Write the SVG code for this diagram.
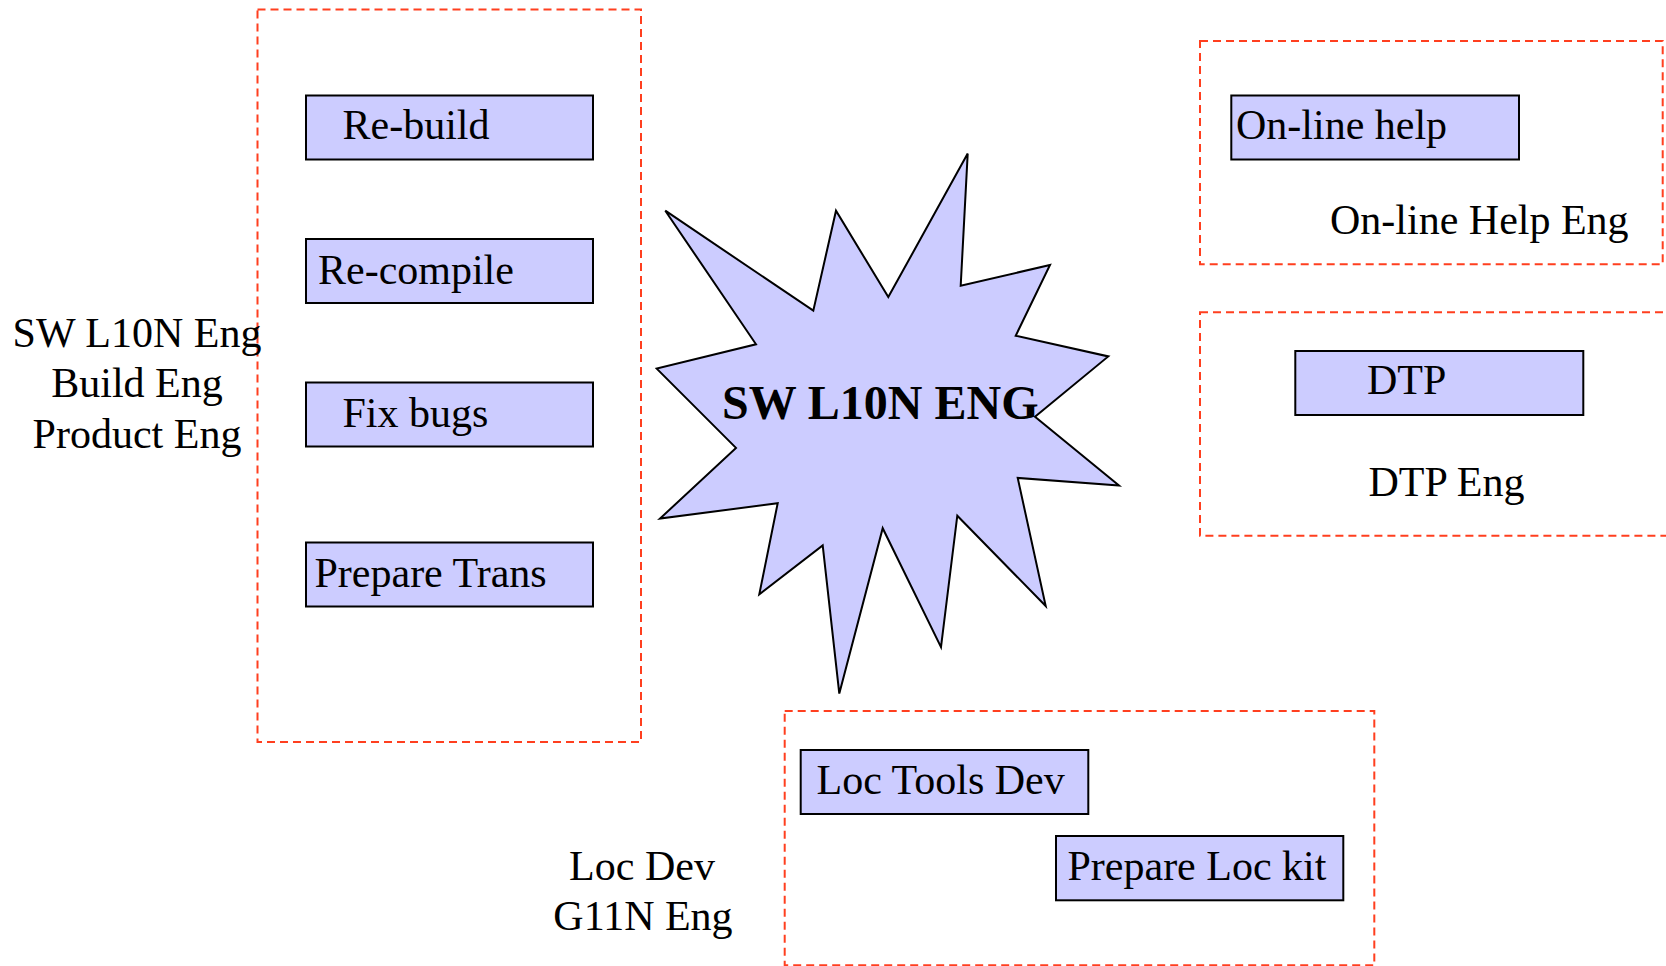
<svg xmlns="http://www.w3.org/2000/svg" width="1666" height="966" viewBox="0 0 1666 966">
<style>
.grp{fill:none;stroke:#FF3F1F;stroke-width:2;stroke-dasharray:8 5}
.box{fill:#CCCCFF;stroke:#000;stroke-width:2}
.t{font-family:"Liberation Serif","Times New Roman",serif;font-size:42px;fill:#000}
.c{text-anchor:middle}
.title{font-family:"Liberation Serif","Times New Roman",serif;font-size:48px;font-weight:bold;fill:#000}
</style>
<rect width="1666" height="966" fill="#fff"/>
<g id="group-build">
<rect class="grp" x="257.5" y="9.5" width="383.5" height="732.5"/>
<text class="t c" x="137" y="346.7">SW L10N Eng</text>
<text class="t c" x="137" y="397.3">Build Eng</text>
<text class="t c" x="137" y="448.3">Product Eng</text>
</g>
<g id="group-online">
<rect class="grp" x="1200" y="41" width="462.7" height="223.3"/>
<text class="t" x="1330" y="234.3">On-line Help Eng</text>
</g>
<g id="group-dtp">
<rect class="grp" x="1200" y="312.3" width="480" height="223.4"/>
<text class="t" x="1368.5" y="496">DTP Eng</text>
</g>
<g id="group-locdev">
<rect class="grp" x="784.7" y="711" width="589.6" height="254.3"/>
<text class="t c" x="642" y="880">Loc Dev</text>
<text class="t c" x="643" y="930">G11N Eng</text>
</g>
<g id="rebuild"><rect class="box" x="306" y="95.5" width="287" height="64"/><text class="t" x="342.5" y="139.3">Re-build</text></g>
<g id="recompile"><rect class="box" x="306" y="239" width="287" height="64"/><text class="t" x="318" y="283.7">Re-compile</text></g>
<g id="fixbugs"><rect class="box" x="306" y="382.5" width="287" height="64"/><text class="t" x="342.5" y="426.7">Fix bugs</text></g>
<g id="preparetrans"><rect class="box" x="306" y="542.5" width="287" height="64"/><text class="t" x="314.5" y="586.7">Prepare Trans</text></g>
<g id="onlinehelp"><rect class="box" x="1231.3" y="95.5" width="287.7" height="64"/><text class="t" x="1236" y="139.3">On-line help</text></g>
<g id="dtp"><rect class="box" x="1295.3" y="351" width="288" height="64"/><text class="t" x="1367" y="394.3">DTP</text></g>
<g id="loctoolsdev"><rect class="box" x="800.7" y="750" width="287.6" height="64"/><text class="t" x="816.5" y="794.3">Loc Tools Dev</text></g>
<g id="preparelockit"><rect class="box" x="1056" y="836" width="287.3" height="64.3"/><text class="t" x="1067.5" y="880">Prepare Loc kit</text></g>
<g id="swl10neng">
<polygon class="box" points="967.7,153.6 960.7,285.7 1050,265 1015.7,335.7 1108.3,356.4 1035,416.8 1119,485.4 1017.7,477.9 1045.7,606 957.3,515.7 941,647.1 882.7,528.2 839.3,693.6 822.7,545.4 759.3,594.3 777.7,503.2 660,518.6 736,447.9 656.7,368.6 756,344.3 665.3,210.7 813.3,310.7 836,210.7 888.3,297.1"/>
<text class="title" x="722" y="418.6">SW L10N ENG</text>
</g>
<g id="connectors"/>
</svg>
